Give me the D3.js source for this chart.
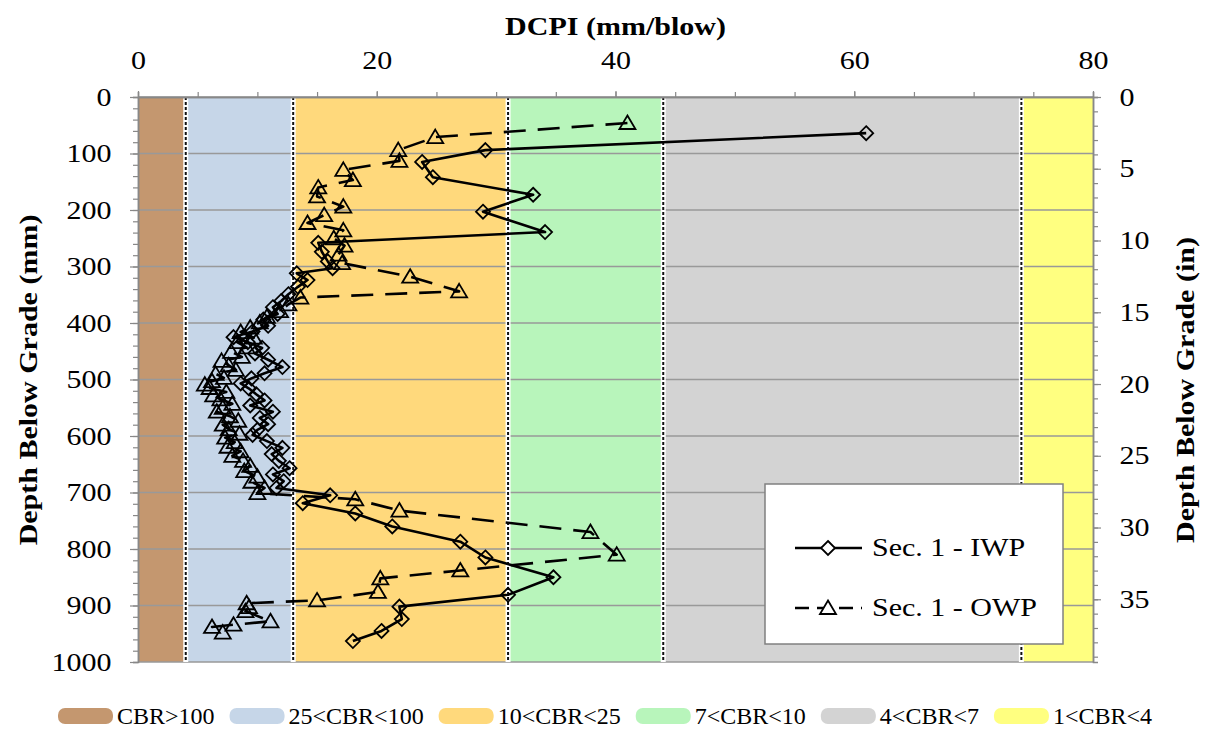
<!DOCTYPE html>
<html>
<head>
<meta charset="utf-8">
<script src="https://cdnjs.cloudflare.com/ajax/libs/d3/7.8.5/d3.min.js"></script>
<style>
body{margin:0;background:#fff}
text{font-family:"Liberation Serif","Times New Roman",serif;fill:#000}
</style>
</head>
<body>
<script>
// CBR zones along DCPI axis
var bandLimits = [0, 4, 13, 31, 44, 74, 80];
var bandLabels = ["CBR>100", "25<CBR<100", "10<CBR<25", "7<CBR<10", "4<CBR<7", "1<CBR<4"];
var bandColors = ["#c4976f", "#c6d6e8", "#ffd97c", "#b8f5bb", "#d3d3d3", "#ffff80"];

var xTicks = [0, 20, 40, 60, 80];
var mmTicks = [0, 100, 200, 300, 400, 500, 600, 700, 800, 900, 1000];
var inTicks = [0, 5, 10, 15, 20, 25, 30, 35];

// Sec. 1 - IWP
var iwpDcpi = [61.0, 29.1, 23.8, 24.7, 33.1, 28.9, 34.1, 15.1, 15.4, 15.9, 16.3, 13.3, 14.2, 13.4,
  12.6, 12.0, 11.3, 11.7, 10.5, 10.9, 9.6, 8.0, 9.2, 10.4, 9.8, 10.9, 12.1, 10.6, 9.5, 8.6, 9.3,
  9.9, 10.6, 9.4, 11.3, 10.2, 10.9, 10.0, 9.6, 10.8, 12.1, 11.2, 11.8, 12.7, 11.3, 12.2, 11.6,
  16.1, 13.8, 18.2, 21.3, 27.0, 29.1, 34.8, 31.0, 21.9, 22.1, 20.4, 18.0];
var iwpDepth = [64, 94, 115, 142, 173, 203, 239, 258, 274, 291, 303, 312, 324, 336,
  349, 361, 372, 384, 394, 405, 415, 425, 434, 444, 454, 465, 478, 489, 498, 507, 516,
  526, 537, 546, 557, 568, 579, 589, 598, 609, 621, 632, 644, 657, 668, 680, 692,
  705, 719, 737, 760, 787, 815, 850, 881, 902, 924, 945, 963];

// Sec. 1 - OWP
var owpDcpi = [41.0, 24.9, 21.8, 21.9, 17.2, 18.0, 15.1, 15.0, 17.2, 15.6, 14.2, 17.2, 16.4, 17.3,
  16.8, 17.1, 22.8, 26.9, 13.6, 12.6, 11.9, 10.8, 10.2, 9.4, 8.6, 9.7, 8.3, 9.1, 7.8, 8.7, 7.0,
  7.6, 8.2, 6.5, 7.2, 6.2, 5.6, 6.0, 7.4, 6.3, 6.9, 7.9, 7.1, 6.6, 7.7, 8.4, 7.1, 7.6, 8.5, 7.3,
  8.1, 7.5, 8.6, 7.9, 8.8, 9.4, 8.9, 10.0, 9.5, 10.6, 10.0, 18.2, 21.9, 37.9, 40.1, 27.0, 20.3,
  20.1, 15.0, 9.1, 9.3, 9.0, 11.1, 8.0, 6.2, 7.1];
var owpDepth = [46, 71, 94, 113, 129, 147, 160, 176, 194, 209, 223, 236, 250, 263,
  279, 294, 318, 344, 355, 367, 379, 389, 399, 408, 416, 426, 434, 443, 451, 460, 467,
  475, 483, 490, 497, 503, 509, 515, 522, 528, 535, 543, 550, 557, 565, 573, 580, 588, 596, 603,
  611, 619, 627, 635, 644, 653, 662, 672, 681, 692, 701, 712, 732, 770, 810, 838, 852,
  876, 891, 896, 903, 910, 928, 934, 938, 948];

var series = [
  {name: "Sec. 1 - IWP", dcpi: iwpDcpi, depth: iwpDepth, dash: null, marker: "diamond"},
  {name: "Sec. 1 - OWP", dcpi: owpDcpi, depth: owpDepth, dash: "22,12", marker: "triangle"}
];

var width = 1209, height = 734;
var margin = {top: 97, right: 116, bottom: 72, left: 138};
var stretch = "scale(1.2,1)";

var svg = d3.select("body").append("svg")
  .attr("width", width).attr("height", height);

var x = d3.scaleLinear().domain([0, 80]).range([margin.left, width - margin.right]);
var y = d3.scaleLinear().domain([0, 1000]).range([margin.top, height - margin.bottom]);
var yIn = d3.scaleLinear().domain([0, 1000 / 25.4]).range([margin.top, height - margin.bottom]);

// zones
svg.selectAll("rect.band").data(bandColors)
  .enter().append("rect")
  .attr("class", "band")
  .attr("x", (d, i) => x(bandLimits[i]) + 1)
  .attr("width", (d, i) => x(bandLimits[i + 1]) - x(bandLimits[i]) - 1)
  .attr("y", y(0))
  .attr("height", y(1000) - y(0))
  .attr("fill", d => d);

// horizontal grid
svg.selectAll("line.grid").data(mmTicks)
  .enter().append("line")
  .attr("x1", x(0)).attr("x2", x(80))
  .attr("y1", d => y(d)).attr("y2", d => y(d))
  .attr("stroke", "#999").attr("stroke-width", 1.5);

// zone boundaries
var bounds = bandLimits.slice(1, -1);
svg.selectAll("line.gap").data(bounds)
  .enter().append("line")
  .attr("x1", d => x(d)).attr("x2", d => x(d))
  .attr("y1", y(0)).attr("y2", y(1000))
  .attr("stroke", "#fff").attr("stroke-width", 5);
svg.selectAll("line.bound").data(bounds)
  .enter().append("line")
  .attr("x1", d => x(d)).attr("x2", d => x(d))
  .attr("y1", y(0)).attr("y2", y(1000))
  .attr("stroke", "#111").attr("stroke-width", 2)
  .attr("stroke-dasharray", "3,2");

// axes
function styleAxis(g) {
  g.selectAll("path.domain").attr("stroke", "#888").attr("stroke-width", 1.5);
  g.selectAll(".tick line").attr("stroke", "#888").attr("stroke-width", 1.2);
  g.selectAll("text").attr("font-size", 25).attr("fill", "#000")
    .attr("font-family", "Liberation Serif, serif")
    .attr("transform", stretch);
}

svg.append("g").attr("transform", "translate(0," + y(0) + ")")
  .call(d3.axisTop(x).ticks(16).tickSize(5).tickFormat(""))
  .call(styleAxis);
svg.append("g").attr("transform", "translate(0," + y(0) + ")")
  .call(d3.axisTop(x).tickValues(xTicks).tickSize(6).tickSizeOuter(0).tickPadding(22))
  .call(styleAxis);

svg.append("g").attr("transform", "translate(" + x(0) + ",0)")
  .call(d3.axisLeft(y).ticks(50).tickSize(5).tickFormat(""))
  .call(styleAxis);
svg.append("g").attr("transform", "translate(" + x(0) + ",0)")
  .call(d3.axisLeft(y).tickValues(mmTicks).tickFormat(d3.format("d"))
    .tickSize(8).tickSizeOuter(0).tickPadding(14))
  .call(styleAxis);

svg.append("g").attr("transform", "translate(" + x(80) + ",0)")
  .call(d3.axisRight(yIn).ticks(40).tickSize(5).tickFormat(""))
  .call(styleAxis);
svg.append("g").attr("transform", "translate(" + x(80) + ",0)")
  .call(d3.axisRight(yIn).tickValues(inTicks).tickSize(8).tickSizeOuter(0).tickPadding(14))
  .call(styleAxis);

// titles
function label(x0, y0, rot, str, size, bold, anchor) {
  return svg.append("text")
    .attr("transform", "translate(" + x0 + "," + y0 + ") rotate(" + rot + ") " + stretch)
    .attr("text-anchor", anchor || "middle")
    .attr("font-size", size)
    .attr("font-weight", bold ? "bold" : "normal")
    .text(str);
}
label((x(0) + x(80)) / 2, 35, 0, "DCPI (mm/blow)", 25, true);
label(37, 380, -90, "Depth Below Grade (mm)", 25, true);
label(1194, 390, -90, "Depth Below Grade (in)", 25, true);

// series
var markerPath = {
  diamond: "M0,-7L7,0L0,7L-7,0Z",
  triangle: "M0,-7.5L8,6L-8,6Z"
};
var line = d3.line().x(d => x(d[0])).y(d => y(d[1]));

series.forEach(function(s) {
  var pts = s.dcpi.map((v, i) => [v, s.depth[i]]);
  svg.append("path").datum(pts)
    .attr("d", line)
    .attr("fill", "none").attr("stroke", "#000").attr("stroke-width", 2.6)
    .attr("stroke-dasharray", s.dash)
    .attr("stroke-linejoin", "round");
  svg.append("g").selectAll("path").data(pts)
    .enter().append("path")
    .attr("d", markerPath[s.marker])
    .attr("transform", d => "translate(" + x(d[0]) + "," + y(d[1]) + ")")
    .attr("fill", "none").attr("stroke", "#000").attr("stroke-width", 1.8);
});

// series legend
var lg = svg.append("g");
lg.append("rect").attr("x", 765).attr("y", 484).attr("width", 298).attr("height", 160)
  .attr("fill", "#fff").attr("stroke", "#808080").attr("stroke-width", 1.5);
series.forEach(function(s, i) {
  var ly = 548 + i * 60;
  lg.append("line").attr("x1", 795).attr("x2", 862).attr("y1", ly).attr("y2", ly)
    .attr("stroke", "#000").attr("stroke-width", 2.6)
    .attr("stroke-dasharray", s.dash ? "14,8" : null);
  lg.append("path").attr("d", markerPath[s.marker])
    .attr("transform", "translate(828," + ly + ")")
    .attr("fill", "#fff").attr("stroke", "#000").attr("stroke-width", 1.8);
  lg.append("text")
    .attr("transform", "translate(872," + (ly + 8) + ") " + stretch)
    .attr("font-size", 25)
    .text(s.name);
});

// zone legend at bottom
var bx = 58, by = 716;
bandLabels.forEach(function(t, i) {
  svg.append("rect").attr("x", bx).attr("y", by - 8).attr("width", 55).attr("height", 16)
    .attr("rx", 7).attr("fill", bandColors[i]);
  var tx = svg.append("text").attr("x", bx + 59).attr("y", by + 8)
    .attr("font-size", 24).text(t);
  bx += 59 + tx.node().getComputedTextLength() + 15;
});
</script>
</body>
</html>
